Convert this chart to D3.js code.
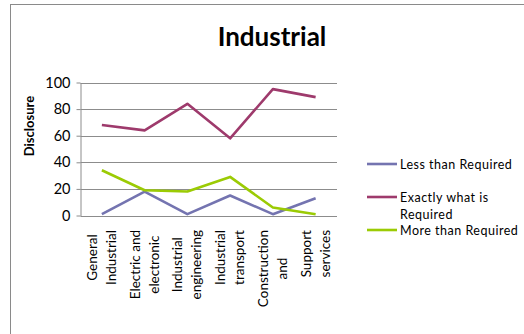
<!DOCTYPE html>
<html>
<head>
<meta charset="utf-8">
<script src="https://cdn.jsdelivr.net/npm/d3@7/dist/d3.min.js"></script>
<style>
  html, body { margin: 0; padding: 0; background: #fff; }
  svg { display: block; }
  text { font-family: Lato, "Open Sans", sans-serif; fill: #000; }
</style>
</head>
<body>
<svg id="chart" width="524" height="334"></svg>
<script>
// Sector categories (each label is drawn as two stacked lines)
const categories = [
  ["General", "Industrial"],
  ["Electric and", "electronic"],
  ["Industrial", "engineering"],
  ["Industrial", "transport"],
  ["Construction", "and"],
  ["Support", "services"]
];
const seriesNames = ["Less than Required", "Exactly what is Required", "More than Required"];
const lessThan = [1, 18, 1, 15, 1, 13];
const exactly = [68, 64, 84, 58, 95, 89];
const moreThan = [34, 19, 18, 29, 6, 1];
const yTicks = [0, 20, 40, 60, 80, 100];
const colors = ["#7474B0", "#9E3A6C", "#9BCB04"];

const series = [lessThan, exactly, moreThan];

const svg = d3.select("#chart");
const plot = { left: 80.5, right: 337, top: 82.5, bottom: 215.5 };

// Outer chart frame
svg.append("rect")
  .attr("x", 10.5).attr("y", 4.5)
  .attr("width", 540).attr("height", 360)
  .attr("fill", "none").attr("stroke", "#8a8a8a").attr("stroke-width", 1);

// Title
svg.append("text")
  .attr("x", 272).attr("y", 46)
  .attr("text-anchor", "middle")
  .attr("font-size", 26).attr("font-weight", "bold")
  .text("Industrial");

const x = d3.scaleBand()
  .domain(d3.range(categories.length))
  .range([plot.left, plot.right]);

const y = d3.scaleLinear()
  .domain([0, 100])
  .range([plot.bottom, plot.top]);

// Horizontal gridlines
svg.append("g")
  .selectAll("line")
  .data(yTicks)
  .join("line")
  .attr("x1", plot.left).attr("x2", plot.right)
  .attr("y1", d => Math.round(y(d)) + 0.5).attr("y2", d => Math.round(y(d)) + 0.5)
  .attr("stroke", "#8c8c8c").attr("stroke-width", 1);

// Y axis
const yAxis = svg.append("g")
  .attr("transform", `translate(${plot.left},0)`)
  .call(d3.axisLeft(y).tickValues(yTicks).tickSize(4).tickPadding(6).tickSizeOuter(0));
yAxis.select(".domain").attr("stroke", "#8c8c8c");
yAxis.selectAll(".tick line").attr("stroke", "#8c8c8c");
yAxis.selectAll(".tick text")
  .attr("font-size", 14.5).attr("font-family", "Lato, 'Open Sans', sans-serif").attr("fill", "#111");

// Y axis title
svg.append("text")
  .attr("transform", "translate(34,126) rotate(-90)")
  .attr("text-anchor", "middle")
  .attr("font-size", 13).attr("font-weight", "bold")
  .text("Disclosure");

// Category labels, rotated, two lines per category
const labelTop = 230;
const catG = svg.append("g");
categories.forEach((lines, i) => {
  const cx = x(i) + x.bandwidth() / 2;
  const g = catG.append("g");
  const texts = lines.map((s, j) => g.append("text")
    .attr("font-size", 13.5)
    .attr("text-anchor", "middle")
    .text(s));
  const maxLen = d3.max(texts, t => t.node().getComputedTextLength());
  const cy = labelTop + maxLen / 2;
  texts.forEach((t, j) => {
    const bx = cx + (j === 0 ? -5 : 14);
    t.attr("transform", `translate(${bx},${cy}) rotate(-90)`);
  });
});

// Lines
const line = d3.line()
  .x((d, i) => x(i) + x.bandwidth() / 2)
  .y(d => y(d));

series.forEach((s, k) => {
  svg.append("path")
    .datum(s)
    .attr("d", line)
    .attr("fill", "none")
    .attr("stroke", colors[k])
    .attr("stroke-width", 2.6)
    .attr("stroke-linejoin", "round");
});

// Legend
const legend = svg.append("g").attr("font-size", 12.5).attr("letter-spacing", 0.5);
const legendRows = [
  { y: 164, lines: ["Less than Required"] },
  { y: 197, lines: ["Exactly what is", "Required"] },
  { y: 230, lines: ["More than Required"] }
];
legendRows.forEach((r, k) => {
  legend.append("line")
    .attr("x1", 367).attr("x2", 397)
    .attr("y1", r.y).attr("y2", r.y)
    .attr("stroke", colors[k]).attr("stroke-width", 2.6);
  r.lines.forEach((s, j) => {
    legend.append("text")
      .attr("x", 400).attr("y", r.y + 4.5 + j * 17)
      .text(s);
  });
});
</script>
</body>
</html>
